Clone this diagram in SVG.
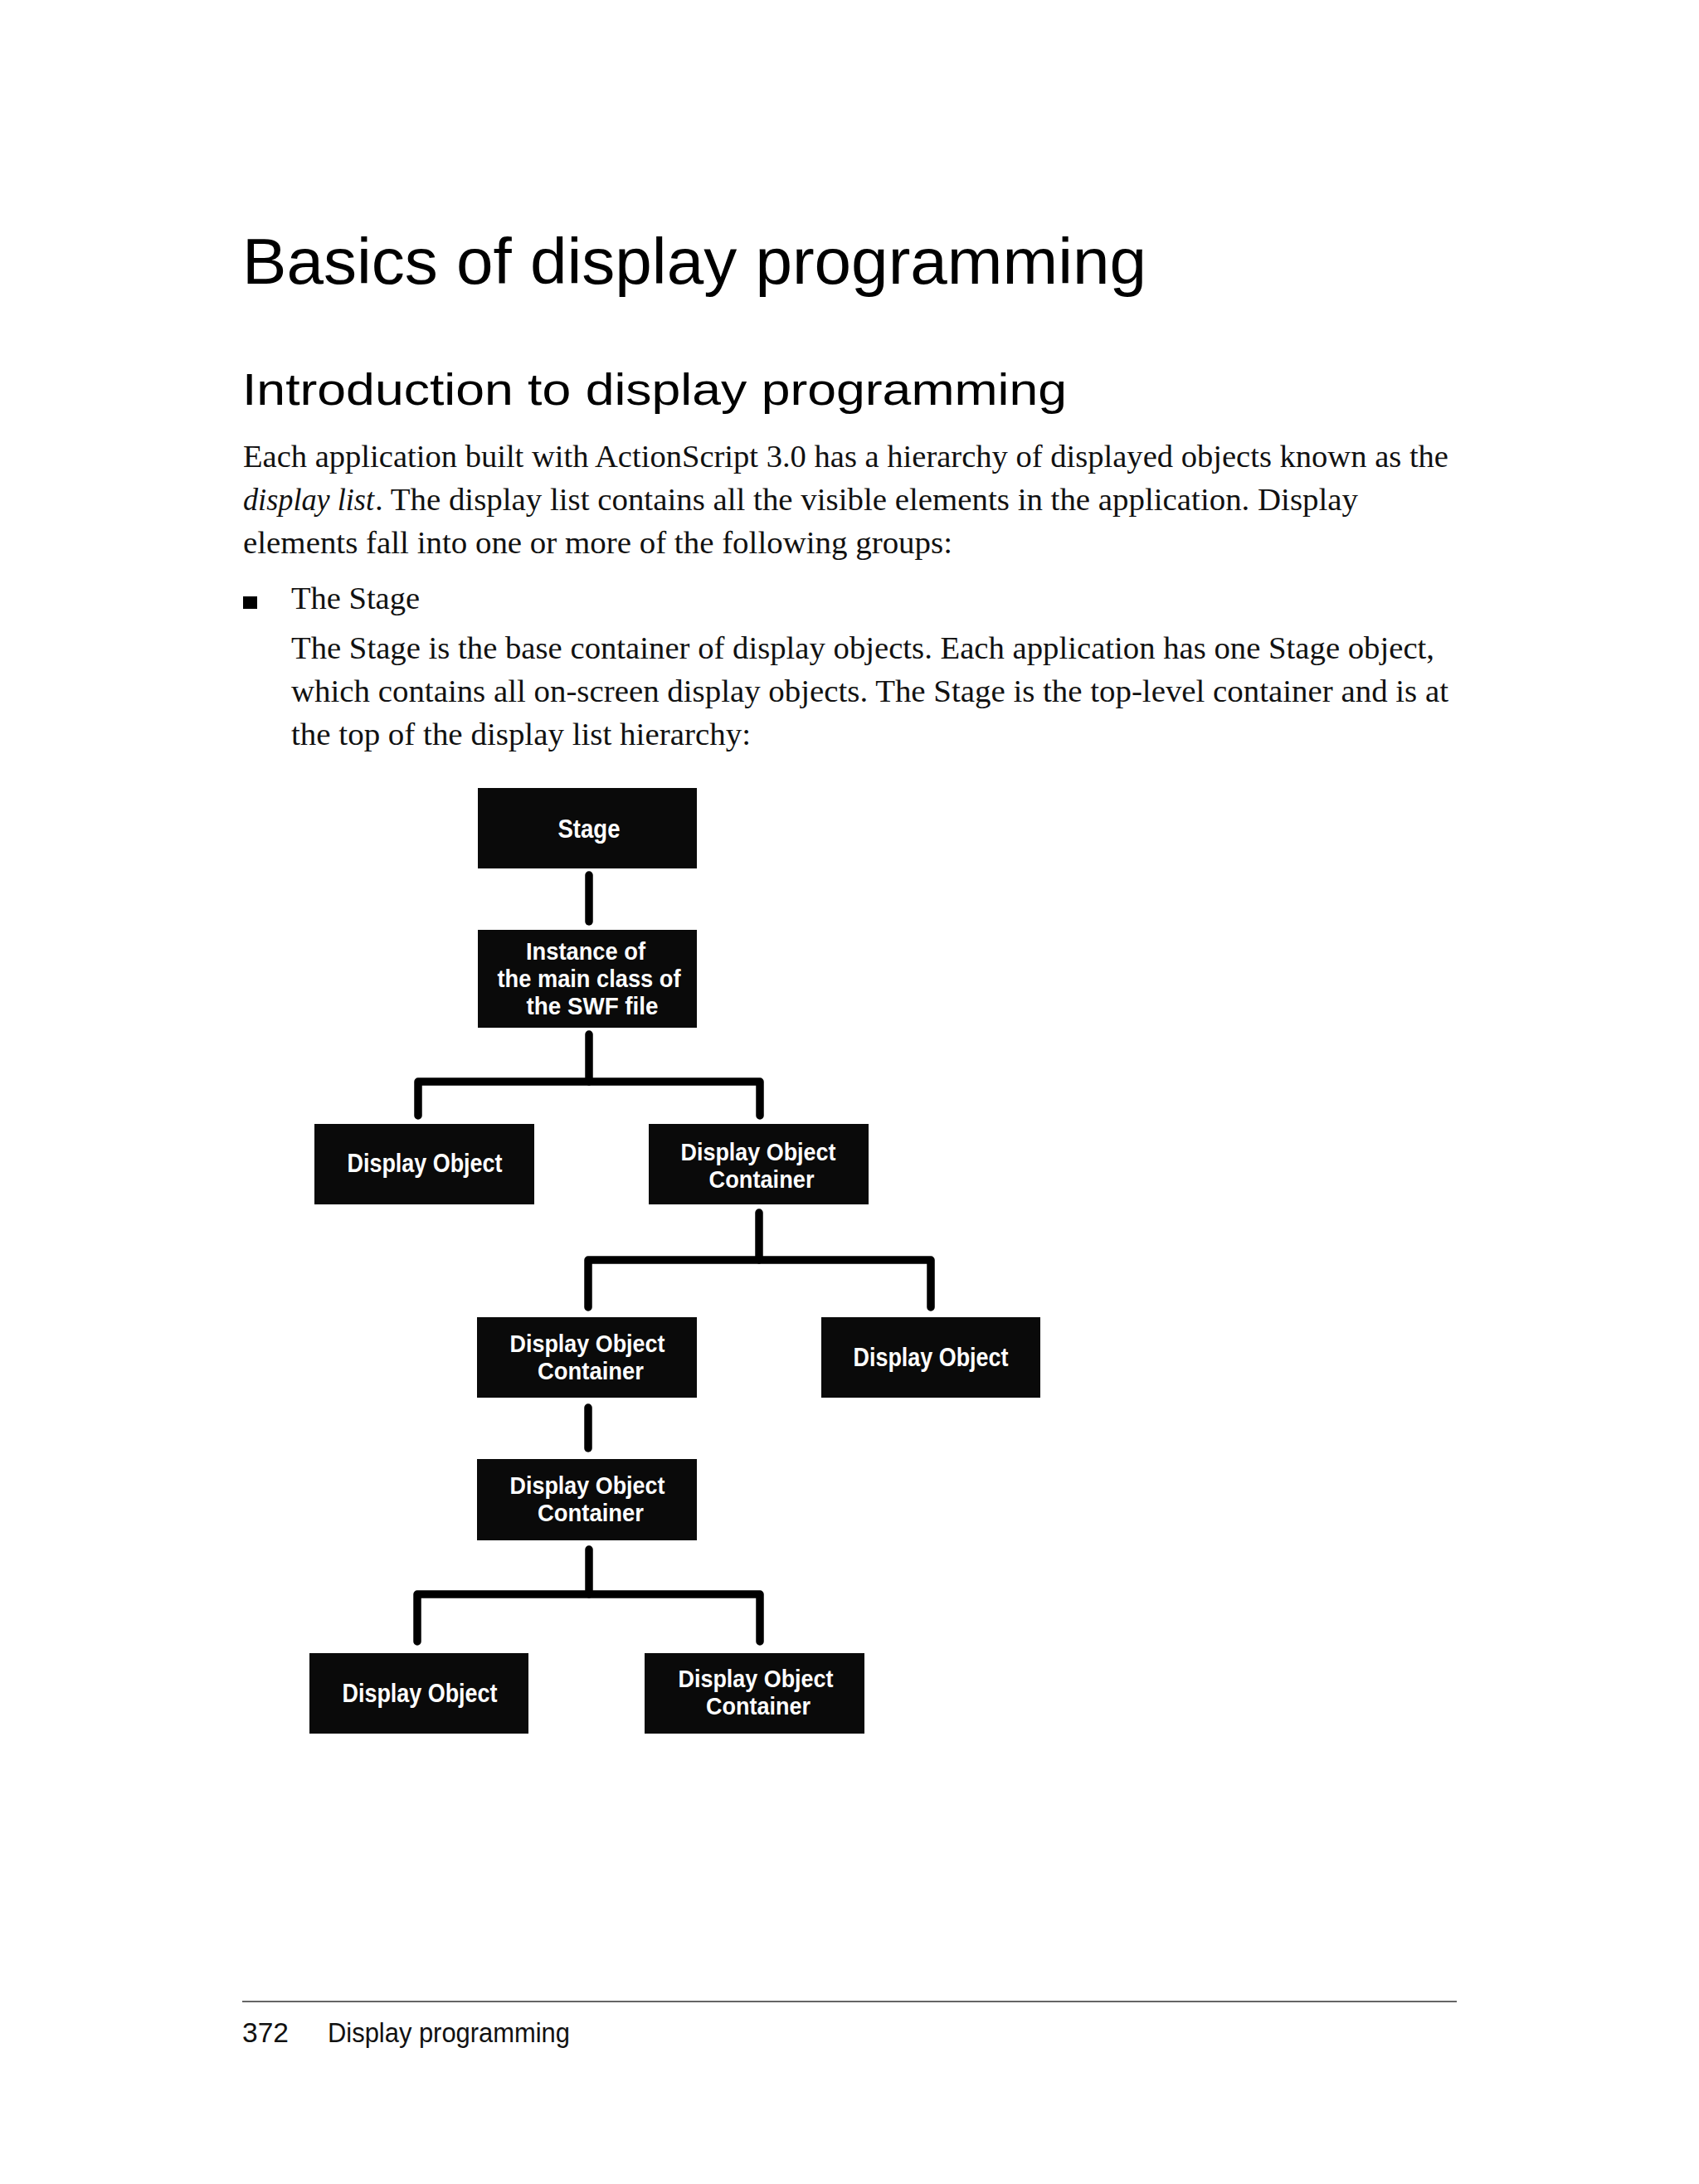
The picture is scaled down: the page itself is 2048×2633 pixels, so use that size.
<svg xmlns="http://www.w3.org/2000/svg" width="2048" height="2633" viewBox="0 0 2048 2633">
<style>
.h1{font-family:"Liberation Sans",Arial,sans-serif;font-size:78px;fill:#000}
.h2{font-family:"Liberation Sans",Arial,sans-serif;font-size:53px;fill:#000}
.body{font-family:"Liberation Serif","Times New Roman",serif;font-size:37px;fill:#111}
.it{font-style:italic}
.foot{font-family:"Liberation Sans",Arial,sans-serif;font-size:33px;fill:#111}
.box{fill:#0a0a0a}
.lbl{font-family:"Liberation Sans",Arial,sans-serif;font-weight:bold;font-size:29px;fill:#fff;text-anchor:middle}
.one{font-size:31px}
.conn{fill:none;stroke:#000;stroke-width:9.5;stroke-linecap:round;stroke-linejoin:round}
</style>
<rect width="2048" height="2633" fill="#fff"/>
<text class="h1" x="292" y="342" textLength="1090" lengthAdjust="spacingAndGlyphs">Basics of display programming</text>
<text class="h2" x="292" y="488" textLength="994" lengthAdjust="spacingAndGlyphs">Introduction to display programming</text>
<text class="body" x="293" y="563" textLength="1453" lengthAdjust="spacingAndGlyphs">Each application built with ActionScript 3.0 has a hierarchy of displayed objects known as the</text>
<text class="body it" x="293" y="615" textLength="158" lengthAdjust="spacingAndGlyphs">display list</text>
<text class="body" x="452" y="615" textLength="1185" lengthAdjust="spacingAndGlyphs">. The display list contains all the visible elements in the application. Display</text>
<text class="body" x="293" y="667" textLength="855" lengthAdjust="spacingAndGlyphs">elements fall into one or more of the following groups:</text>
<rect x="293" y="719" width="17" height="15" fill="#000"/>
<text class="body" x="351" y="734" textLength="155" lengthAdjust="spacingAndGlyphs">The Stage</text>
<text class="body" x="351" y="794" textLength="1378" lengthAdjust="spacingAndGlyphs">The Stage is the base container of display objects. Each application has one Stage object,</text>
<text class="body" x="351" y="846" textLength="1395" lengthAdjust="spacingAndGlyphs">which contains all on-screen display objects. The Stage is the top-level container and is at</text>
<text class="body" x="351" y="898" textLength="554" lengthAdjust="spacingAndGlyphs">the top of the display list hierarchy:</text>

<g id="connectors">
<path class="conn" d="M710 1055 V1111"/>
<path class="conn" d="M710 1247 V1304"/>
<path class="conn" d="M504 1345 V1304 H916 V1345"/>
<path class="conn" d="M915 1462 V1519"/>
<path class="conn" d="M709 1576 V1519 H1122 V1576"/>
<path class="conn" d="M709 1697 V1746"/>
<path class="conn" d="M710 1868 V1922"/>
<path class="conn" d="M503 1979 V1922 H916 V1979"/>
</g>

<g id="node-stage">
<rect class="box" x="576" y="950" width="264" height="97"/>
<text class="lbl one" x="710" y="1010" textLength="75" lengthAdjust="spacingAndGlyphs">Stage</text>
</g>
<g id="node-instance">
<rect class="box" x="576" y="1121" width="264" height="118"/>
<text class="lbl" x="706" y="1157" textLength="144" lengthAdjust="spacingAndGlyphs">Instance of</text>
<text class="lbl" x="710" y="1190" textLength="221" lengthAdjust="spacingAndGlyphs">the main class of</text>
<text class="lbl" x="714" y="1223" textLength="159" lengthAdjust="spacingAndGlyphs">the SWF file</text>
</g>
<g id="node-do1">
<rect class="box" x="379" y="1355" width="265" height="97"/>
<text class="lbl one" x="512" y="1413" textLength="187" lengthAdjust="spacingAndGlyphs">Display Object</text>
</g>
<g id="node-doc1">
<rect class="box" x="782" y="1355" width="265" height="97"/>
<text class="lbl" x="914" y="1399" textLength="187" lengthAdjust="spacingAndGlyphs">Display Object</text>
<text class="lbl" x="918" y="1432" textLength="127" lengthAdjust="spacingAndGlyphs">Container</text>
</g>
<g id="node-doc2">
<rect class="box" x="575" y="1588" width="265" height="97"/>
<text class="lbl" x="708" y="1630" textLength="187" lengthAdjust="spacingAndGlyphs">Display Object</text>
<text class="lbl" x="712" y="1663" textLength="128" lengthAdjust="spacingAndGlyphs">Container</text>
</g>
<g id="node-do2">
<rect class="box" x="990" y="1588" width="264" height="97"/>
<text class="lbl one" x="1122" y="1647" textLength="187" lengthAdjust="spacingAndGlyphs">Display Object</text>
</g>
<g id="node-doc3">
<rect class="box" x="575" y="1759" width="265" height="98"/>
<text class="lbl" x="708" y="1801" textLength="187" lengthAdjust="spacingAndGlyphs">Display Object</text>
<text class="lbl" x="712" y="1834" textLength="128" lengthAdjust="spacingAndGlyphs">Container</text>
</g>
<g id="node-do3">
<rect class="box" x="373" y="1993" width="264" height="97"/>
<text class="lbl one" x="506" y="2052" textLength="187" lengthAdjust="spacingAndGlyphs">Display Object</text>
</g>
<g id="node-doc4">
<rect class="box" x="777" y="1993" width="265" height="97"/>
<text class="lbl" x="911" y="2034" textLength="187" lengthAdjust="spacingAndGlyphs">Display Object</text>
<text class="lbl" x="914" y="2067" textLength="126" lengthAdjust="spacingAndGlyphs">Container</text>
</g>

<line x1="292" y1="2413" x2="1756" y2="2413" stroke="#333" stroke-width="1.5"/>
<text class="foot" x="292" y="2462" textLength="56" lengthAdjust="spacingAndGlyphs">372</text>
<text class="foot" x="395" y="2462" textLength="292" lengthAdjust="spacingAndGlyphs">Display programming</text>
</svg>
